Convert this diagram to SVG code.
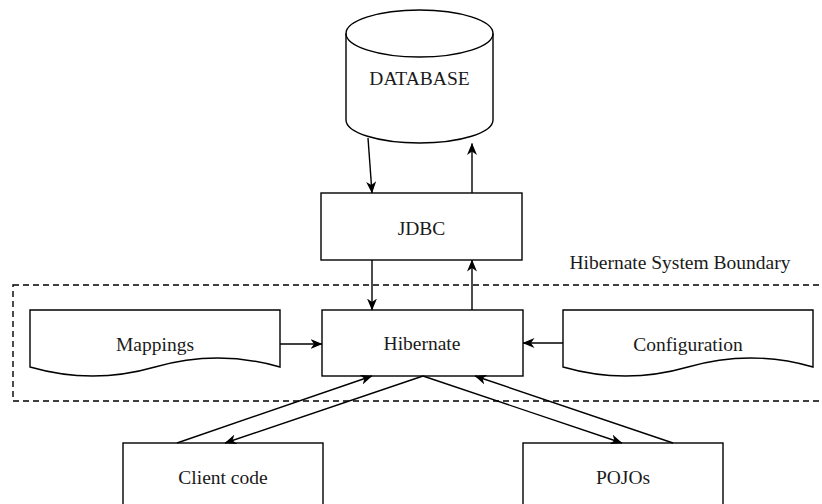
<svg xmlns="http://www.w3.org/2000/svg" width="822" height="504" viewBox="0 0 822 504">
<style>
.shape{fill:#fff;stroke:#000;stroke-width:1.4}
.lbl{font-family:"Liberation Serif","Times New Roman",serif;font-size:19.5px;fill:#1a1a1a;text-anchor:middle}
.conn{fill:none;stroke:#000;stroke-width:1.4;marker-end:url(#arr)}
</style>
<defs>
<marker id="arr" markerUnits="userSpaceOnUse" viewBox="0 0 12 10" refX="11.5" refY="5" markerWidth="12" markerHeight="10" orient="auto">
<path d="M0,0 L12,5 L0,10 L3.5,5 Z" fill="#000"/>
</marker>
</defs>
<rect id="boundary" x="13" y="285" width="830" height="116" fill="none" stroke="#000" stroke-width="1.4" stroke-dasharray="6 4"/>
<text class="lbl" x="680" y="268.5">Hibernate System Boundary</text>
<g id="database">
<path class="shape" d="M346,33.5 A73.5,23.5 0 0 1 493,33.5 L493,120 A73.5,23 0 0 1 346,120 Z"/>
<path d="M346,33.5 A73.5,23.5 0 0 0 493,33.5" fill="none" stroke="#000" stroke-width="1.4"/>
<text class="lbl" x="419.5" y="85">DATABASE</text>
</g>
<g id="jdbc">
<rect class="shape" x="321" y="193" width="201" height="67"/>
<text class="lbl" x="421.5" y="234.5">JDBC</text>
</g>
<g id="hibernate">
<rect class="shape" x="322" y="310" width="201" height="66"/>
<text class="lbl" x="422" y="350">Hibernate</text>
</g>
<g id="mappings">
<path class="shape" d="M30,310 L280,310 L280,367 Q217.5,349 155,367 Q92.5,385 30,367 Z"/>
<text class="lbl" x="155" y="351">Mappings</text>
</g>
<g id="configuration">
<path class="shape" d="M563,310 L813,310 L813,367 Q750.5,349 688,367 Q625.5,385 563,367 Z"/>
<text class="lbl" x="688" y="351">Configuration</text>
</g>
<g id="client">
<rect class="shape" x="123" y="443" width="200" height="80"/>
<text class="lbl" x="223" y="484">Client code</text>
</g>
<g id="pojos">
<rect class="shape" x="523" y="443" width="200" height="80"/>
<text class="lbl" x="623" y="484">POJOs</text>
</g>
<g id="connectors">
<line class="conn" x1="368" y1="138" x2="372" y2="193"/>
<line class="conn" x1="472" y1="193" x2="472" y2="143.5"/>
<line class="conn" x1="372" y1="260" x2="372" y2="310"/>
<line class="conn" x1="472" y1="310" x2="472" y2="260"/>
<line class="conn" x1="280" y1="344" x2="322" y2="344"/>
<line class="conn" x1="563" y1="343" x2="523" y2="343"/>
<line class="conn" x1="177" y1="443" x2="372" y2="376"/>
<line class="conn" x1="423" y1="376" x2="225" y2="443"/>
<line class="conn" x1="423" y1="376" x2="622" y2="443"/>
<line class="conn" x1="673" y1="443" x2="475" y2="376"/>
</g>
</svg>
